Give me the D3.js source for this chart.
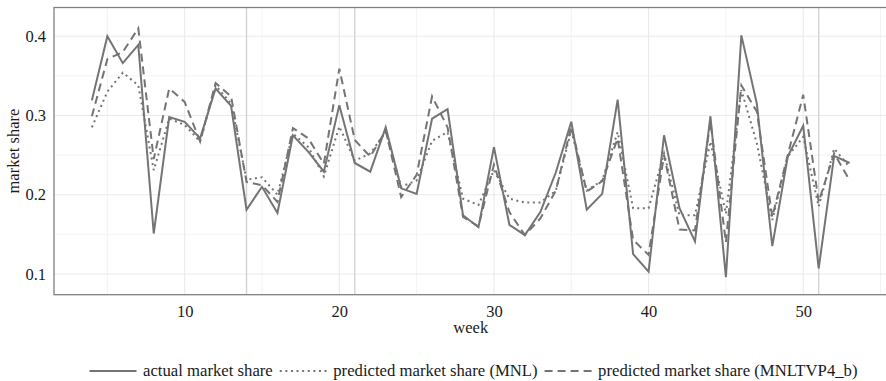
<!DOCTYPE html>
<html>
<head>
<meta charset="utf-8">
<script src="https://cdn.jsdelivr.net/npm/d3@7"></script>
<style>
  html, body { margin: 0; padding: 0; background: #fff; }
  svg { display: block; }
  svg text { font-family: "Liberation Serif", "Times New Roman", Times, serif; }
</style>
</head>
<body>
<svg id="chart" width="886" height="381"></svg>
<script>
// Weekly market share: observed vs. two model predictions
const weeks = [4, 5, 6, 7, 8, 9, 10, 11, 12, 13, 14, 15, 16, 17, 18, 19, 20, 21, 22, 23,
  24, 25, 26, 27, 28, 29, 30, 31, 32, 33, 34, 35, 36, 37, 38, 39, 40, 41, 42, 43,
  44, 45, 46, 47, 48, 49, 50, 51, 52, 53];

const actualShare = [0.319, 0.400, 0.366, 0.389, 0.151, 0.298, 0.292, 0.271, 0.334, 0.312,
  0.181, 0.210, 0.177, 0.275, 0.254, 0.229, 0.313, 0.240, 0.229, 0.285,
  0.208, 0.201, 0.296, 0.308, 0.174, 0.159, 0.260, 0.162, 0.149, 0.178,
  0.228, 0.292, 0.181, 0.201, 0.320, 0.125, 0.103, 0.275, 0.183, 0.141,
  0.299, 0.096, 0.401, 0.315, 0.135, 0.248, 0.287, 0.107, 0.249, 0.240];

const predictedMNL = [0.285, 0.330, 0.354, 0.338, 0.231, 0.296, 0.288, 0.267, 0.338, 0.315,
  0.219, 0.222, 0.200, 0.277, 0.260, 0.223, 0.286, 0.243, 0.252, 0.279,
  0.210, 0.218, 0.268, 0.279, 0.195, 0.187, 0.231, 0.195, 0.190, 0.190,
  0.205, 0.281, 0.205, 0.218, 0.279, 0.183, 0.183, 0.252, 0.174, 0.174,
  0.267, 0.176, 0.332, 0.265, 0.168, 0.248, 0.273, 0.185, 0.258, 0.235];

const predictedTVP = [0.299, 0.371, 0.380, 0.410, 0.245, 0.334, 0.317, 0.267, 0.341, 0.324,
  0.216, 0.212, 0.191, 0.284, 0.271, 0.239, 0.359, 0.269, 0.248, 0.281,
  0.197, 0.225, 0.324, 0.285, 0.172, 0.160, 0.238, 0.178, 0.149, 0.170,
  0.205, 0.286, 0.204, 0.217, 0.271, 0.143, 0.124, 0.250, 0.156, 0.155,
  0.292, 0.140, 0.338, 0.305, 0.172, 0.250, 0.326, 0.191, 0.252, 0.218];

const seriesNames = ["actual market share", "predicted market share (MNL)", "predicted market share (MNLTVP4_b)"];
const markerWeeks = [14, 21, 51];

const xTicks = [10, 20, 30, 40, 50];
const xMinor = [5, 15, 25, 35, 45, 55];
const yTicks = [0.1, 0.2, 0.3, 0.4];
const yMinor = [0.15, 0.25, 0.35];

const lineColor = "#747474";
const textColor = "#1a1a1a";
const serif = "'Liberation Serif', 'Times New Roman', Times, serif";
const dashStyles = [null, "2,3.6", "8,5"];

const svg = d3.select("#chart");
const panel = { left: 54, right: 887.5, top: 7.5, bottom: 294.7 };

const x = d3.scaleLinear().domain([1.55, 55.45]).range([panel.left, panel.right]);
const y = d3.scaleLinear().domain([0.0738, 0.4362]).range([panel.bottom, panel.top]);

const g = svg.append("g");

// grid
g.selectAll(".ymin").data(yMinor).join("line")
  .attr("x1", panel.left).attr("x2", panel.right)
  .attr("y1", d => y(d)).attr("y2", d => y(d))
  .attr("stroke", "#f3f3f3").attr("stroke-width", 1);
g.selectAll(".xmin").data(xMinor).join("line")
  .attr("y1", panel.top).attr("y2", panel.bottom)
  .attr("x1", d => x(d)).attr("x2", d => x(d))
  .attr("stroke", "#f3f3f3").attr("stroke-width", 1);
g.selectAll(".ymaj").data(yTicks).join("line")
  .attr("x1", panel.left).attr("x2", panel.right)
  .attr("y1", d => y(d)).attr("y2", d => y(d))
  .attr("stroke", "#eaeaea").attr("stroke-width", 1.1);
g.selectAll(".xmaj").data(xTicks).join("line")
  .attr("y1", panel.top).attr("y2", panel.bottom)
  .attr("x1", d => x(d)).attr("x2", d => x(d))
  .attr("stroke", "#eaeaea").attr("stroke-width", 1.1);

// reference weeks
g.selectAll(".vref").data(markerWeeks).join("line")
  .attr("y1", panel.top).attr("y2", panel.bottom)
  .attr("x1", d => x(d)).attr("x2", d => x(d))
  .attr("stroke", "#d3d3d3").attr("stroke-width", 1.4);

// series lines
const seriesValues = [actualShare, predictedMNL, predictedTVP];
const line = d3.line().x(d => x(d[0])).y(d => y(d[1]));
seriesValues.forEach((vals, i) => {
  g.append("path")
    .datum(weeks.map((w, k) => [w, vals[k]]))
    .attr("d", line)
    .attr("fill", "none")
    .attr("stroke", lineColor)
    .attr("stroke-width", 2)
    .attr("stroke-linejoin", "miter")
    .attr("stroke-dasharray", dashStyles[i]);
});

// panel border
g.append("rect")
  .attr("x", panel.left).attr("y", panel.top)
  .attr("width", panel.right - panel.left).attr("height", panel.bottom - panel.top)
  .attr("fill", "none").attr("stroke", "#808080").attr("stroke-width", 1.3);

// axes (labels only)
const xAxis = d3.axisBottom(x).tickValues(xTicks).tickSize(0).tickPadding(11).tickFormat(d3.format("d"));
const gx = svg.append("g").attr("transform", `translate(0,${panel.bottom})`).call(xAxis);
gx.attr("font-family", null);
gx.select(".domain").remove();
gx.selectAll("text").attr("font-size", 16.5).attr("fill", textColor).style("font-family", serif);

const yAxis = d3.axisLeft(y).tickValues(yTicks).tickSize(0).tickPadding(8).tickFormat(d3.format(".1f"));
const gy = svg.append("g").attr("transform", `translate(${panel.left},0)`).call(yAxis);
gy.attr("font-family", null);
gy.select(".domain").remove();
gy.selectAll("text").attr("font-size", 16.5).attr("fill", textColor).style("font-family", serif);

// axis titles
svg.append("text")
  .attr("x", (panel.left + panel.right) / 2).attr("y", 333)
  .attr("text-anchor", "middle").attr("font-size", 16.5).attr("fill", textColor)
  .style("font-family", serif)
  .text("week");
svg.append("text")
  .attr("transform", `translate(18.5,${(panel.top + panel.bottom) / 2}) rotate(-90)`)
  .attr("text-anchor", "middle").attr("font-size", 16.5).attr("fill", textColor)
  .style("font-family", serif)
  .text("market share");

// legend
const legend = svg.append("g");
const keyW = 47, keyGap = 6.5, itemGap = 7, legendBaseline = 376;
let cursor = 0;
seriesNames.forEach((name, i) => {
  const item = legend.append("g");
  item.append("line")
    .attr("x1", 0).attr("x2", keyW)
    .attr("y1", legendBaseline - 5).attr("y2", legendBaseline - 5)
    .attr("stroke", lineColor).attr("stroke-width", 2)
    .attr("stroke-dasharray", dashStyles[i]);
  const t = item.append("text")
    .attr("x", keyW + keyGap).attr("y", legendBaseline)
    .attr("font-size", 16.7).attr("fill", textColor)
    .style("font-family", serif)
    .text(name);
  const w = keyW + keyGap + t.node().getComputedTextLength();
  item.attr("transform", `translate(${cursor},0)`);
  cursor += w + itemGap;
});
const totalW = cursor - itemGap;
legend.attr("transform", `translate(${473.5 - totalW / 2},0)`);
</script>
</body>
</html>
